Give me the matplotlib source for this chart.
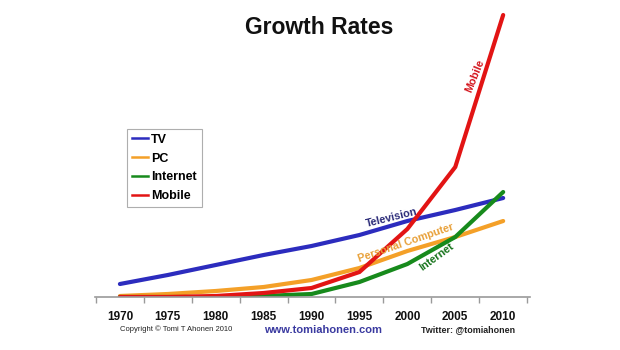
import matplotlib
matplotlib.use("Agg")
import matplotlib.pyplot as plt
from matplotlib.lines import Line2D

# Relative growth of four technologies, 1970-2010
years = [1970, 1975, 1980, 1985, 1990, 1995, 2000, 2005, 2010]
tv = [13, 22, 32, 42, 51, 62, 76, 87, 99]
pc = [1, 3, 6, 10, 17, 29, 46, 60, 76]
internet = [0, 0, 0, 1, 3, 15, 33, 60, 105]
mobile = [0, 0, 1, 4, 9, 25, 68, 130, 282]

series_names = ["TV", "PC", "Internet", "Mobile"]
series_values = [tv, pc, internet, mobile]
colors = ["#2c2cbe", "#f4a028", "#178a1c", "#e21414"]
line_labels = ["Television", "Personal Computer", "Internet", "Mobile"]
label_colors = ["#2a2a78", "#e8a038", "#16731b", "#d4141c"]
tick_labels = [str(y) for y in years]

W, H = 620, 350
plt.rcParams["font.family"] = ["Liberation Sans", "DejaVu Sans"]
fig = plt.figure(figsize=(W / 100, H / 100), dpi=100)
fig.patch.set_facecolor("white")


def fx(px):
    return px / W


def fy(py):
    return 1 - py / H


# axes: x-axis line from px 95 to 530 at py 297, top at py 10
ax = fig.add_axes([fx(95), fy(297), fx(530) - fx(95), (297 - 10) / H])
ax.set_xlim(1967.4, 2012.8)
ax.set_ylim(0, 287)

for name, vals, c in zip(series_names, series_values, colors):
    ax.plot(years, vals, color=c, lw=3.0, solid_capstyle="round",
            solid_joinstyle="miter", label=name)

for s in ["top", "right", "left"]:
    ax.spines[s].set_visible(False)
ax.spines["bottom"].set_color("#9a9a9a")
ax.spines["bottom"].set_linewidth(1.2)
ax.set_yticks([])

ax.set_xticks(years)
ax.set_xticklabels(tick_labels, fontsize=8.5, fontweight="bold", color="#111111")
ax.tick_params(axis="x", which="major", length=0, pad=10)
ax.set_xticks([1967.5 + 5 * i for i in range(10)], minor=True)
ax.tick_params(axis="x", which="minor", length=4, width=1.0, color="#9a9a9a")

# inline series labels
inline = [
    (1998.4, 79, 14),
    (1999.8, 54, 19),
    (2003.1, 40, 36),
    (2007.1, 221, 68),
]
for text, c, (x, y, rot) in zip(line_labels, label_colors, inline):
    ax.text(x, y, text, color=c, fontsize=7.8, fontweight="bold",
            rotation=rot, rotation_mode="anchor", ha="center", va="center")

# legend
handles = [Line2D([0], [0], color=c, lw=1.8) for c in colors]
leg = fig.legend(handles, series_names, loc="upper left",
                 bbox_to_anchor=(fx(127), fy(129)), frameon=True,
                 fancybox=False, handlelength=1.3, handletextpad=0.25,
                 labelspacing=0.55, borderpad=0.38, borderaxespad=0,
                 prop={"size": 9, "weight": "bold"})
leg.get_frame().set_edgecolor("#9a9a9a")
leg.get_frame().set_linewidth(0.8)

fig.text(fx(319), fy(27), "Growth Rates", fontsize=16.5, fontweight="bold",
         ha="center", va="center", color="#111111")

fig.text(fx(120), fy(329), "Copyright \u00a9 Tomi T Ahonen 2010", fontsize=5.5,
         ha="left", va="center", color="#222222")
fig.text(fx(323), fy(330), "www.tomiahonen.com", fontsize=8, fontweight="bold",
         ha="center", va="center", color="#3a3aa0")
fig.text(fx(515), fy(330), "Twitter: @tomiahonen", fontsize=6.4, fontweight="bold",
         ha="right", va="center", color="#222222")

fig.savefig("out.png", dpi=100, facecolor="white")
